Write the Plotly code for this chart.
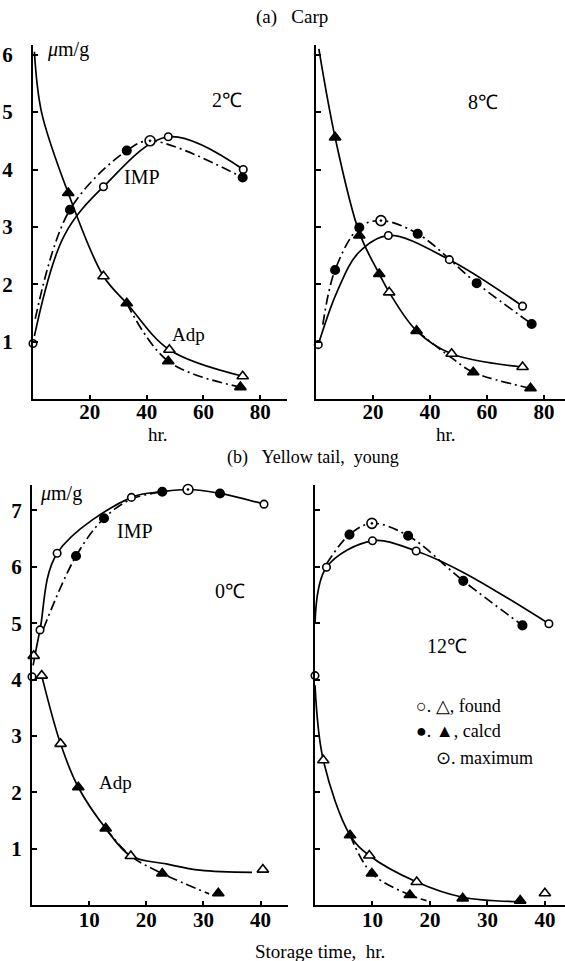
import plotly.graph_objects as go

W, H = 565, 961
FONT = "Liberation Serif, Times New Roman, serif"

# ---------------- data ----------------
# (a) Carp, 2 C
a_imp_found_t = [0, 24.8, 47.6, 74.0]
a_imp_found = [0.97, 3.70, 4.57, 4.00]
a_imp_calc_t = [13.0, 33.0, 73.8]
a_imp_calc = [3.30, 4.33, 3.86]
a_imp_max_t = [41.2]
a_imp_max = [4.50]
a_adp_found_t = [24.8, 48.0, 73.8]
a_adp_found = [2.14, 0.86, 0.40]
a_adp_calc_t = [12.4, 33.0, 47.6, 73.0]
a_adp_calc = [3.59, 1.67, 0.66, 0.21]
# curves
a_imp_solid_t = [0.5, 11.0, 24.8, 47.6, 74.0]
a_imp_solid = [1.10, 2.85, 3.70, 4.57, 4.00]
a_imp_dd_t = [0.8, 13.0, 33.0, 41.2, 73.8]
a_imp_dd = [1.40, 3.30, 4.33, 4.50, 3.86]
a_adp_solid_t = [0.5, 3.0, 12.4, 24.8, 33.0, 48.0, 73.8]
a_adp_solid = [6.05, 5.00, 3.59, 2.14, 1.67, 0.86, 0.40]
a_adp_dd_t = [33.0, 47.6, 73.0]
a_adp_dd = [1.67, 0.66, 0.21]

# (a) Carp, 8 C
b_imp_found_t = [0.8, 25.4, 46.8, 72.5]
b_imp_found = [0.95, 2.85, 2.43, 1.62]
b_imp_calc_t = [6.7, 15.2, 35.7, 56.4, 75.7]
b_imp_calc = [2.25, 2.99, 2.88, 2.02, 1.31]
b_imp_max_t = [22.8]
b_imp_max = [3.11]
b_adp_found_t = [25.7, 47.6, 72.5]
b_adp_found = [1.86, 0.79, 0.56]
b_adp_calc_t = [6.7, 15.2, 22.2, 35.3, 55.2, 75.3]
b_adp_calc = [4.56, 2.85, 2.18, 1.19, 0.47, 0.19]
b_imp_solid_t = [0.8, 7.3, 14.9, 25.4, 46.8, 72.5]
b_imp_solid = [0.95, 1.86, 2.55, 2.85, 2.43, 1.62]
b_imp_dd_t = [2.4, 6.7, 15.2, 22.8, 35.7, 56.4, 75.7]
b_imp_dd = [1.30, 2.25, 2.99, 3.11, 2.88, 2.02, 1.31]
b_adp_solid_t = [1.0, 6.7, 15.2, 22.2, 25.7, 35.3, 47.6, 72.5]
b_adp_solid = [6.10, 4.56, 2.90, 2.18, 1.86, 1.19, 0.79, 0.56]
b_adp_dd_t = [35.3, 47.6, 55.2, 75.3]
b_adp_dd = [1.19, 0.72, 0.47, 0.19]

# (b) Yellow tail, young, 0 C
c_imp_found_t = [0.0, 1.4, 4.4, 17.4, 40.6]
c_imp_found = [4.05, 4.88, 6.24, 7.23, 7.11]
c_imp_calc_t = [7.7, 12.6, 22.8, 32.9]
c_imp_calc = [6.19, 6.86, 7.33, 7.30]
c_imp_max_t = [27.3]
c_imp_max = [7.37]
c_adp_found_t = [0.3, 1.7, 5.0, 17.3, 40.4]
c_adp_found = [4.42, 4.07, 2.86, 0.87, 0.63]
c_adp_calc_t = [8.1, 12.9, 22.8, 32.6]
c_adp_calc = [2.09, 1.36, 0.56, 0.21]
c_imp_solid_t = [0.2, 1.4, 4.4, 17.4, 22.8, 27.3, 32.9, 40.6]
c_imp_solid = [4.25, 4.88, 6.24, 7.23, 7.33, 7.37, 7.30, 7.11]
c_imp_dd_t = [2.0, 7.7, 12.6, 17.4, 22.8]
c_imp_dd = [4.90, 6.19, 6.86, 7.20, 7.33]
c_adp_solid_t = [1.7, 5.0, 8.1, 12.9, 17.3, 23.5, 29.4, 38.5]
c_adp_solid = [4.07, 2.86, 2.09, 1.36, 0.87, 0.73, 0.62, 0.58]
c_adp_dd_t = [12.9, 17.3, 22.8, 31.0]
c_adp_dd = [1.36, 0.87, 0.56, 0.20]

# (b) Yellow tail, young, 12 C
d_imp_found_t = [0.0, 2.0, 10.0, 17.6, 40.7]
d_imp_found = [4.07, 5.99, 6.46, 6.28, 4.99]
d_imp_calc_t = [6.0, 16.2, 25.8, 36.1]
d_imp_calc = [6.57, 6.55, 5.75, 4.96]
d_imp_max_t = [9.9]
d_imp_max = [6.77]
d_adp_found_t = [1.45, 9.45, 17.7, 40.0]
d_adp_found = [2.57, 0.88, 0.41, 0.21]
d_adp_calc_t = [6.1, 9.9, 16.5, 25.7, 35.7]
d_adp_calc = [1.24, 0.56, 0.18, 0.12, 0.08]
d_imp_solid_t = [0.0, 2.0, 10.0, 17.6, 25.8, 40.7]
d_imp_solid = [5.00, 5.99, 6.46, 6.28, 5.90, 4.99]
d_imp_dd_t = [2.0, 6.0, 9.9, 16.2, 25.8, 36.1]
d_imp_dd = [6.05, 6.57, 6.77, 6.55, 5.75, 4.96]
d_adp_solid_t = [0.0, 1.45, 6.1, 9.45, 17.7, 25.7, 35.7]
d_adp_solid = [3.90, 2.57, 1.24, 0.88, 0.41, 0.14, 0.06]
d_adp_dd_t = [6.1, 9.9, 16.5, 19.4]
d_adp_dd = [1.24, 0.56, 0.18, 0.08]

y_ticks_top = [1, 2, 3, 4, 5, 6]
y_ticks_bot = [1, 2, 3, 4, 5, 6, 7]
x_ticks_top = [20, 40, 60, 80]
x_ticks_bot = [10, 20, 30, 40]

# ---------------- figure ----------------
def px_x(p):
    return p / W

def px_y(p):
    return 1 - p / H

fig = go.Figure()
LW = 1.7
DASHDOT = "10px,4px,2px,4px"


def add_panel(k, sets):
    xa = "x" if k == 1 else f"x{k}"
    ya = "y" if k == 1 else f"y{k}"
    (imp_s_t, imp_s, imp_d_t, imp_d, adp_s_t, adp_s, adp_d_t, adp_d,
     impf_t, impf, impc_t, impc, impm_t, impm, adpf_t, adpf, adpc_t, adpc) = sets
    for tt, yy, dash in [(imp_s_t, imp_s, "solid"), (imp_d_t, imp_d, DASHDOT),
                         (adp_s_t, adp_s, "solid"), (adp_d_t, adp_d, DASHDOT)]:
        fig.add_trace(go.Scatter(x=tt, y=yy, mode="lines", xaxis=xa, yaxis=ya,
                                 line=dict(color="black", width=LW, dash=dash,
                                           shape="spline", smoothing=1.0),
                                 showlegend=False, hoverinfo="skip"))
    mk = [
        (impf_t, impf, "circle", "white", 7.5),
        (impc_t, impc, "circle", "black", 8.5),
        (impm_t, impm, "circle-dot", "white", 10),
        (adpf_t, adpf, "triangle-up", "white", 10),
        (adpc_t, adpc, "triangle-up", "black", 10),
    ]
    for tt, yy, sym, col, sz in mk:
        fig.add_trace(go.Scatter(x=tt, y=yy, mode="markers", xaxis=xa, yaxis=ya,
                                 cliponaxis=False,
                                 marker=dict(symbol=sym, color=col, size=sz,
                                             line=dict(color="black", width=1.6)),
                                 showlegend=False, hoverinfo="skip"))


add_panel(1, (a_imp_solid_t, a_imp_solid, a_imp_dd_t, a_imp_dd, a_adp_solid_t, a_adp_solid,
              a_adp_dd_t, a_adp_dd, a_imp_found_t, a_imp_found, a_imp_calc_t, a_imp_calc,
              a_imp_max_t, a_imp_max, a_adp_found_t, a_adp_found, a_adp_calc_t, a_adp_calc))
add_panel(2, (b_imp_solid_t, b_imp_solid, b_imp_dd_t, b_imp_dd, b_adp_solid_t, b_adp_solid,
              b_adp_dd_t, b_adp_dd, b_imp_found_t, b_imp_found, b_imp_calc_t, b_imp_calc,
              b_imp_max_t, b_imp_max, b_adp_found_t, b_adp_found, b_adp_calc_t, b_adp_calc))
add_panel(3, (c_imp_solid_t, c_imp_solid, c_imp_dd_t, c_imp_dd, c_adp_solid_t, c_adp_solid,
              c_adp_dd_t, c_adp_dd, c_imp_found_t, c_imp_found, c_imp_calc_t, c_imp_calc,
              c_imp_max_t, c_imp_max, c_adp_found_t, c_adp_found, c_adp_calc_t, c_adp_calc))
add_panel(4, (d_imp_solid_t, d_imp_solid, d_imp_dd_t, d_imp_dd, d_adp_solid_t, d_adp_solid,
              d_adp_dd_t, d_adp_dd, d_imp_found_t, d_imp_found, d_imp_calc_t, d_imp_calc,
              d_imp_max_t, d_imp_max, d_adp_found_t, d_adp_found, d_adp_calc_t, d_adp_calc))

tickfont = dict(family=FONT, size=21, color="black", weight="bold")


def xax(dom, rng, ticks, anchor, standoff):
    return dict(domain=[px_x(dom[0]), px_x(dom[1])], range=rng, anchor=anchor,
                showline=True, linecolor="black", linewidth=2, showgrid=False,
                zeroline=False, ticks="inside", ticklen=4, tickwidth=1.5,
                tickcolor="black", tickvals=ticks, tickfont=tickfont,
                ticklabelstandoff=standoff, fixedrange=True)


def yax(dom, rng, ticks, anchor, labels, standoff):
    return dict(domain=[px_y(dom[0]), px_y(dom[1])], range=rng, anchor=anchor,
                showline=True, linecolor="black", linewidth=2, showgrid=False,
                zeroline=False, ticks="inside", ticklen=5, tickwidth=1.5,
                tickcolor="black", tickvals=ticks, showticklabels=labels,
                tickfont=tickfont, ticklabelstandoff=standoff, fixedrange=True)


fig.update_layout(
    width=W, height=H, margin=dict(l=0, r=0, t=0, b=0),
    paper_bgcolor="white", plot_bgcolor="white",
    xaxis=xax((33, 287), [0, 89.4], x_ticks_top, "y", -7),
    yaxis=yax((398, 43), [0, 6.17], y_ticks_top, "x", True, 14),
    xaxis2=xax((316, 565), [0, 87.4], x_ticks_top, "y2", -7),
    yaxis2=yax((398, 43), [0, 6.17], y_ticks_top, "x2", False, 0),
    xaxis3=xax((32, 288), [0, 44.8], x_ticks_bot, "y3", -5),
    yaxis3=yax((905, 484), [0, 7.45], y_ticks_bot, "x3", True, 4),
    xaxis4=xax((315, 565), [0, 43.5], x_ticks_bot, "y4", -5),
    yaxis4=yax((905, 484), [0, 7.45], y_ticks_bot, "x4", False, 0),
)

NB = "\u00a0"
texts = [
    (f"(a){NB*3}Carp", 292, 15, 19, "center"),
    ("<i>μ</i>m/g", 68, 48, 20, "center"),
    ("2℃", 227, 98, 20, "center"),
    ("IMP", 142, 175, 20, "center"),
    ("Adp", 188, 333, 19, "center"),
    ("8℃", 483, 100, 20, "center"),
    ("hr.", 158, 433, 19, "center"),
    ("hr.", 446, 433, 19, "center"),
    (f"(b){NB*3}Yellow{NB}tail,{NB}{NB}young", 313, 456, 18, "center"),
    ("<i>μ</i>m/g", 61, 493, 20, "center"),
    ("IMP", 135, 530, 20, "center"),
    ("0℃", 230, 590, 20, "center"),
    ("Adp", 115, 782, 19, "center"),
    ("12℃", 447, 645, 20, "center"),
    ("○. △, found", 414, 705, 18, "left"),
    ("●. ▲, calcd", 414, 731, 18, "left"),
    ("⊙. maximum", 434, 758, 18, "left"),
    (f"Storage{NB}time,{NB}{NB}hr.", 320, 951, 19, "center"),
]
for t, x, y, s, anc in texts:
    fig.add_annotation(text=t, x=px_x(x), y=px_y(y), xref="paper", yref="paper",
                       xanchor=anc, yanchor="middle", showarrow=False,
                       font=dict(family=FONT, size=s, color="black"))

fig.write_html("out.html")
